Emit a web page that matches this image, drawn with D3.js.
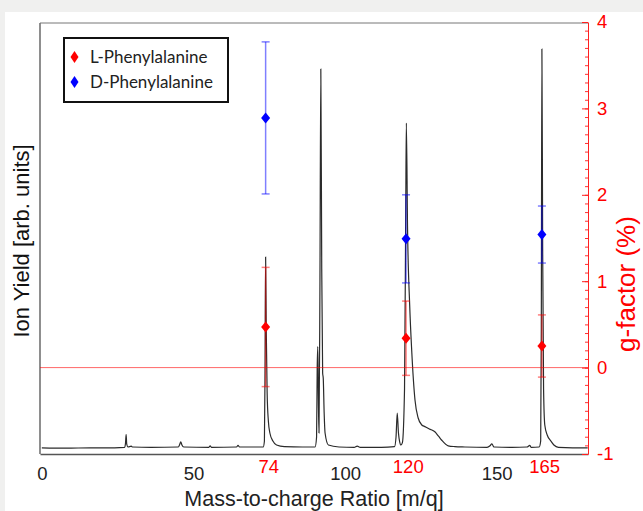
<!DOCTYPE html>
<html>
<head>
<meta charset="utf-8">
<script src="https://cdn.jsdelivr.net/npm/d3@7"></script>
<style>
  html, body { margin: 0; padding: 0; background: #f0f0ef; }
  #container { width: 643px; height: 511px; overflow: hidden; }
</style>
</head>
<body>
<div id="container"></div>
<script>
// spectrum
const specMass = [0, 8, 16, 24, 27.3, 27.6, 27.8, 28.0, 28.4, 29.5, 29.9, 36,
  45.0, 45.5, 45.8, 46.2, 46.8, 55.1, 55.5, 55.9, 64.2, 64.7, 65.2, 71,
  73.0, 73.4, 73.6, 73.8, 74.0, 74.3, 74.7, 75.2, 76.2, 77.4, 80, 86,
  90.1, 90.6, 90.8, 91.0, 91.2, 91.4, 91.7, 92.0, 92.3, 92.6, 92.8, 93.1, 93.4, 94.5, 98,
  103, 104, 105, 112, 116.3, 116.8, 117.2, 117.6, 118.0, 118.4, 118.9, 119.6, 120.0, 120.2,
  120.6, 121.3, 121.96, 123.05, 124.1, 125.3, 126.3, 127.8, 129.6, 130.8, 131.8, 134.0, 136.2, 139.5,
  146.8, 147.8, 148.4, 149.1, 155, 160.0, 160.9, 161.4, 164.0, 164.5, 164.7, 164.9,
  165.15, 165.45, 165.85, 166.65, 167.85, 168.85, 170.35, 175, 180]
const specYield = [0.3, 0.2, 0.3, 0.3, 0.4, 1.5, 3.6, 1.2, 0.5, 0.7, 0.5, 0.4,
  0.5, 1.2, 1.8, 1.0, 0.5, 0.4, 0.8, 0.4, 0.5, 0.9, 0.5, 0.5,
  0.5, 2, 20, 48, 30, 14, 7, 4, 2, 1, 0.6, 0.5,
  0.5, 3, 20, 25.6, 12, 4, 40, 95, 45, 19, 17.7, 9, 4, 1, 0.5,
  0.4, 0.7, 0.4, 0.4, 0.6, 3, 9, 4, 1.8, 1.0, 1.6, 15, 60, 81.5,
  55, 36, 24.75, 12.25, 7.75, 6.0, 5.6, 5.0, 4.3, 3.2, 2.25, 0.8, 0.6, 0.5,
  0.4, 0.8, 1.3, 0.5, 0.4, 0.5, 0.9, 0.4, 0.5, 2, 30, 100,
  50, 15, 6, 3.5, 2, 1, 0.4, 0.3, 0.3]

// g-factor points
const gMass = [73.8, 120.1, 164.9]
const gL = [0.47, 0.34, 0.25]
const gLerr = [0.69, 0.43, 0.36]
const gD = [2.89, 1.49, 1.54]
const gDerr = [0.88, 0.51, 0.33]

const massTicks = [0, 50, 100, 150]
const peakLabels = [74, 120, 165]
const gTicks = [-1, 0, 1, 2, 3, 4]
const series = ["L-Phenylalanine", "D-Phenylalanine"]
const seriesColor = ["#ff0000", "#0000ff"]

const W = 643, H = 511
const pLeft = 40, pRight = 588, pTop = 23, pBottom = 454

const svg = d3.select("#container")
  .append("svg")
    .attr("width", W)
    .attr("height", H)

// white panel
svg.append("rect")
  .attr("x", 5).attr("y", 12)
  .attr("width", W - 5).attr("height", H - 12)
  .attr("fill", "#fff")

const x = d3.scaleLinear().domain([-0.6, 180.1]).range([pLeft, pRight])
const yIon = d3.scaleLinear().domain([0, 100]).range([449, 49])
const g = d3.scaleLinear().domain([-1, 4]).range([pBottom, 22])

// frame (left + top)
svg.append("line").attr("x1", pLeft).attr("x2", pLeft).attr("y1", pTop).attr("y2", pBottom)
  .attr("stroke", "#444").attr("stroke-width", 1.2)
svg.append("line").attr("x1", pLeft).attr("x2", pRight).attr("y1", pTop).attr("y2", pTop)
  .attr("stroke", "#777").attr("stroke-width", 1)

// spectrum
const specData = specMass.map((m, i) => ({m: m, v: specYield[i]}))
svg.append("path")
  .datum(specData)
  .attr("d", d3.line()
    .x(d => x(d.m))
    .y(d => yIon(d.v))
    .curve(d3.curveMonotoneX))
  .attr("fill", "none")
  .attr("stroke", "#2b2b2b")
  .attr("stroke-width", 1.2)

// zero line of g-factor
svg.append("line")
  .attr("x1", pLeft).attr("x2", pRight)
  .attr("y1", g(0)).attr("y2", g(0))
  .attr("stroke", "#ff0000").attr("stroke-opacity", 0.6)

// bottom axis
const xAxis = svg.append("g")
  .attr("transform", `translate(0,${pBottom})`)
  .call(d3.axisBottom(x).tickValues(massTicks).tickSize(0).tickPadding(13).tickSizeOuter(0))
xAxis.select(".domain").attr("stroke", "#555").attr("stroke-width", 1.5)
xAxis.selectAll("text")
  .style("font-family", "Liberation Sans, Arial, sans-serif")
  .style("font-size", "18.5px")
  .attr("fill", "#222")

const peakAxis = svg.append("g")
  .attr("transform", `translate(2,${pBottom})`)
  .call(d3.axisBottom(x).tickValues(peakLabels).tickSize(0).tickPadding(6))
peakAxis.select(".domain").remove()
peakAxis.selectAll("text")
  .style("font-family", "Liberation Sans, Arial, sans-serif")
  .style("font-size", "18.5px")
  .attr("fill", "#ff0000")

// right axis (g-factor)
const minor = svg.append("g")
  .attr("transform", `translate(${pRight},0)`)
  .call(d3.axisRight(g).tickValues(d3.range(-10, 41).map(d => d / 10))
    .tickSize(-3).tickSizeOuter(0).tickFormat(""))
minor.select(".domain").remove()
minor.selectAll("line").attr("stroke", "#ff3030")

const gAxis = svg.append("g")
  .attr("transform", `translate(${pRight},0)`)
  .call(d3.axisRight(g).tickValues(gTicks).tickSize(-6).tickSizeOuter(0)
    .tickPadding(9).tickFormat(d => String(d)))
gAxis.select(".domain").attr("stroke", "#ff2020")
gAxis.selectAll("line").attr("stroke", "#ff2020")
gAxis.selectAll("text")
  .style("font-family", "Liberation Sans, Arial, sans-serif")
  .style("font-size", "18.5px")
  .attr("fill", "#ff0000")

// axis titles
svg.append("text")
  .attr("transform", "translate(29,241) rotate(-90)")
  .attr("text-anchor", "middle")
  .style("font-family", "Liberation Sans, Arial, sans-serif")
  .style("font-size", "22px")
  .attr("fill", "#111")
  .text("Ion Yield [arb. units]")

svg.append("text")
  .attr("x", (pLeft + pRight) / 2)
  .attr("y", 506)
  .attr("text-anchor", "middle")
  .style("font-family", "Liberation Sans, Arial, sans-serif")
  .style("font-size", "21.5px")
  .attr("fill", "#222")
  .text("Mass-to-charge Ratio [m/q]")

svg.append("text")
  .attr("transform", "translate(635,284) rotate(-90)")
  .attr("text-anchor", "middle")
  .style("font-family", "Liberation Sans, Arial, sans-serif")
  .style("font-size", "26px")
  .attr("fill", "#ff0000")
  .text("g-factor (%)")

// diamond marker
function diamond(w, h) {
  return `M0,${-h / 2}L${w / 2},0L0,${h / 2}L${-w / 2},0Z`
}

// error bars + points
const sets = [[gL, gLerr], [gD, gDerr]]
sets.forEach(function(s, k) {
  const vals = s[0], errs = s[1]
  const grp = svg.append("g")
  const bars = grp.selectAll(".bar")
    .data(gMass.map((m, i) => ({m: m, v: vals[i], e: errs[i]})))
    .join("g")
      .attr("stroke", seriesColor[k])
      .attr("stroke-opacity", 0.5)
      .attr("stroke-width", 1.5)
  bars.append("line")
    .attr("x1", d => x(d.m)).attr("x2", d => x(d.m))
    .attr("y1", d => g(d.v - d.e)).attr("y2", d => g(d.v + d.e))
  bars.append("line")
    .attr("x1", d => x(d.m) - 4).attr("x2", d => x(d.m) + 4)
    .attr("y1", d => g(d.v + d.e)).attr("y2", d => g(d.v + d.e))
  bars.append("line")
    .attr("x1", d => x(d.m) - 4).attr("x2", d => x(d.m) + 4)
    .attr("y1", d => g(d.v - d.e)).attr("y2", d => g(d.v - d.e))
  grp.selectAll("path")
    .data(gMass.map((m, i) => ({m: m, v: vals[i]})))
    .join("path")
      .attr("d", diamond(9, 11))
      .attr("transform", d => `translate(${x(d.m)},${g(d.v)})`)
      .attr("fill", seriesColor[k])
})

// legend
const lg = svg.append("g")
lg.append("rect")
  .attr("x", 64).attr("y", 38)
  .attr("width", 164).attr("height", 64)
  .attr("fill", "#fff")
  .attr("stroke", "#111")
  .attr("stroke-width", 2)
series.forEach(function(name, i) {
  lg.append("path")
    .attr("d", diamond(8, 12))
    .attr("transform", `translate(74.5,${57 + i * 25})`)
    .attr("fill", seriesColor[i])
  lg.append("text")
    .attr("x", 90)
    .attr("y", 63 + i * 25)
    .style("font-family", "Lato, sans-serif")
    .style("font-size", "17px")
    .attr("fill", "#222")
    .text(name)
})
</script>
</body>
</html>
